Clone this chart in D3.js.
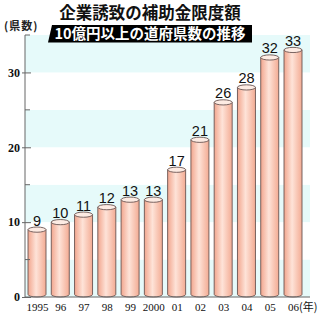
<!DOCTYPE html>
<html>
<head>
<meta charset="utf-8">
<script src="https://cdn.jsdelivr.net/npm/d3@7"></script>
<style>
  body { margin: 0; background: #fff; }
  svg { display: block; }
  .title { font-family: "Noto Sans CJK JP", sans-serif; font-weight: 700; }
  .value-label { font-family: "Liberation Sans", Arial, sans-serif; font-size: 14.5px; fill: #111; }
  .x-axis text { font-family: "Liberation Serif", "Times New Roman", serif; font-size: 11px; fill: #111; }
  .y-axis text { font-family: "Liberation Serif", "Times New Roman", serif; font-size: 12px; font-weight: 700; fill: #111; }
</style>
</head>
<body>
<svg id="chart"></svg>
<script>
// data
const years = ['1995', '96', '97', '98', '99', '2000', '01', '02', '03', '04', '05', '06'];
const counts = [9, 10, 11, 12, 13, 13, 17, 21, 26, 28, 32, 33];
const yTickValues = [0, 10, 20, 30];
const bandEdges = [0, 5, 10, 15, 20, 25, 30, 35];

const titleText = '企業誘致の補助金限度額';
const subtitleText = '10億円以上の道府県数の推移';

class BarChart {
  constructor(_config, _data) {
    this.config = {
      parentElement: _config.parentElement,
      containerWidth: _config.containerWidth || 326,
      containerHeight: _config.containerHeight || 317,
      margin: _config.margin || { top: 35, right: 16, bottom: 20, left: 25 }
    }
    this.data = _data;
    this.initVis();
  }

  initVis() {
    let vis = this;

    vis.width = vis.config.containerWidth - vis.config.margin.left - vis.config.margin.right;
    vis.height = vis.config.containerHeight - vis.config.margin.top - vis.config.margin.bottom;

    vis.svg = d3.select(vis.config.parentElement)
      .attr('width', vis.config.containerWidth)
      .attr('height', vis.config.containerHeight);

    // gradient for the cylinder body
    const grad = vis.svg.append('defs').append('linearGradient')
      .attr('id', 'barGrad')
      .attr('x1', '0%').attr('x2', '100%').attr('y1', '0%').attr('y2', '0%');
    grad.append('stop').attr('offset', '0%').attr('stop-color', '#f2a68e');
    grad.append('stop').attr('offset', '45%').attr('stop-color', '#fee3d8');
    grad.append('stop').attr('offset', '100%').attr('stop-color', '#f3ab93');

    vis.chart = vis.svg.append('g')
      .attr('transform', `translate(${vis.config.margin.left},${vis.config.margin.top})`);

    vis.xScale = d3.scalePoint()
      .domain(years)
      .range([12, 268]);

    vis.yScale = d3.scaleLinear()
      .domain([0, 35])
      .range([vis.height, 0]);

    vis.bandG = vis.chart.append('g');
    vis.barG = vis.chart.append('g');
    vis.xAxisG = vis.chart.append('g').attr('class', 'axis x-axis')
      .attr('transform', `translate(0,${vis.height})`);
    vis.yAxisG = vis.chart.append('g').attr('class', 'axis y-axis');

    // titles
    vis.svg.append('text')
      .attr('class', 'title')
      .attr('x', 150)
      .attr('y', 19)
      .attr('text-anchor', 'middle')
      .style('font-size', '16.5px')
      .style('fill', '#111')
      .text(titleText);

    vis.svg.append('path')
      .attr('d', 'M52,25 L252,25 L252,42.5 L48,42.5 Z')
      .attr('fill', '#000');

    vis.svg.append('text')
      .attr('class', 'title')
      .attr('x', 150)
      .attr('y', 39)
      .attr('text-anchor', 'middle')
      .style('font-size', '14.5px')
      .style('fill', '#fff')
      .text(subtitleText);

    vis.svg.append('text')
      .attr('class', 'title')
      .attr('x', 4)
      .attr('y', 30)
      .style('font-size', '11px')
      .style('letter-spacing', '1px')
      .style('fill', '#222')
      .text('(県数)');
  }

  updateVis() {
    let vis = this;
    vis.xValue = d => d.year;
    vis.yValue = d => d.count;
    vis.renderVis();
  }

  renderVis() {
    let vis = this;
    const bw = 18, ry = 2.6;

    // alternating 5-unit background bands
    const bands = d3.pairs(bandEdges);
    vis.bandG.selectAll('rect')
      .data(bands)
      .join('rect')
      .attr('x', 0)
      .attr('width', 285)
      .attr('y', d => vis.yScale(d[1]))
      .attr('height', d => vis.yScale(d[0]) - vis.yScale(d[1]))
      .attr('fill', (d, i) => i % 2 === 0 ? '#e6fafa' : '#ffffff');

    const bars = vis.barG.selectAll('.bar')
      .data(vis.data)
      .join('g')
      .attr('class', 'bar');

    // cylinder body
    bars.append('path')
      .attr('d', d => {
        const cx = vis.xScale(vis.xValue(d));
        const x0 = cx - bw / 2, x1 = cx + bw / 2;
        const yt = vis.yScale(vis.yValue(d));
        const yb = vis.height - ry;
        return `M${x0},${yt} L${x0},${yb} A${bw / 2},${ry} 0 0 0 ${x1},${yb} L${x1},${yt} Z`;
      })
      .attr('fill', 'url(#barGrad)')
      .attr('stroke', '#6a5552')
      .attr('stroke-width', 0.9);

    // cylinder top
    bars.append('ellipse')
      .attr('cx', d => vis.xScale(vis.xValue(d)))
      .attr('cy', d => vis.yScale(vis.yValue(d)))
      .attr('rx', bw / 2)
      .attr('ry', ry)
      .attr('fill', '#fdebe3')
      .attr('stroke', '#6a5552')
      .attr('stroke-width', 0.9);

    bars.append('text')
      .attr('class', 'value-label')
      .attr('x', d => vis.xScale(vis.xValue(d)))
      .attr('y', d => vis.yScale(vis.yValue(d)) - 4)
      .attr('text-anchor', 'middle')
      .text(d => vis.yValue(d));

    // axes
    vis.xAxis = d3.axisBottom(vis.xScale)
      .tickSize(0)
      .tickPadding(6);

    vis.xAxisG.call(vis.xAxis)
      .call(g => g.select('.domain').attr('d', 'M0,0H285').attr('stroke', '#666'));
    vis.xAxisG.selectAll('.tick text')
      .attr('dy', '0.71em');
    vis.xAxisG.select('.tick:last-of-type text')
      .attr('text-anchor', 'start')
      .attr('dx', -5.5)
      .text(d => d)
      .append('tspan')
      .style('font-family', '"Noto Sans CJK JP", sans-serif')
      .style('font-size', '11px')
      .text('(年)');

    vis.yAxis = d3.axisLeft(vis.yScale)
      .tickValues(yTickValues)
      .tickSize(3)
      .tickPadding(2);

    vis.yAxisG.call(vis.yAxis)
      .call(g => g.select('.domain').attr('d', `M0,0V${vis.height}`).attr('stroke', '#666'));
    vis.yAxisG.selectAll('.tick line')
      .attr('x1', 6)
      .attr('stroke', '#666');

    // minor ticks inside the plot
    vis.yAxisG.selectAll('.minor')
      .data([5, 15, 25, 35])
      .join('line')
      .attr('class', 'minor')
      .attr('x1', 0).attr('x2', 5)
      .attr('y1', d => vis.yScale(d)).attr('y2', d => vis.yScale(d))
      .attr('stroke', '#666');
  }
}

const data = years.map((y, i) => ({ year: y, count: counts[i] }));
const chart = new BarChart({ parentElement: '#chart' }, data);
chart.updateVis();
</script>
</body>
</html>
